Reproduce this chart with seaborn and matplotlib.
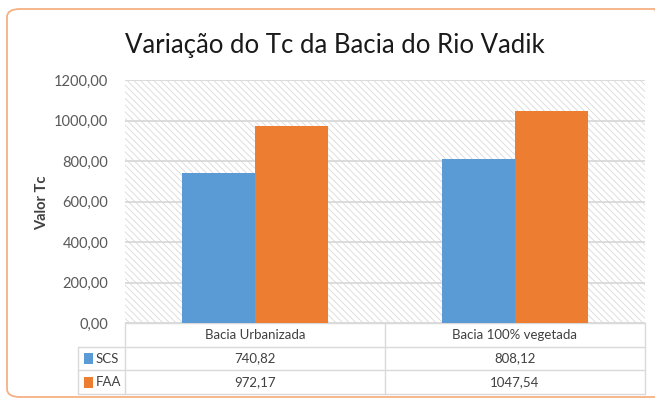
import pandas as pd
import seaborn as sns
import matplotlib.pyplot as plt
from matplotlib.patches import FancyBboxPatch, Rectangle

categories = ["Bacia Urbanizada", "Bacia 100% vegetada"]
series = ["SCS", "FAA"]
scs_values = [740.82, 808.12]
faa_values = [972.17, 1047.54]
yticks = [0, 200, 400, 600, 800, 1000, 1200]
colors = ["#5B9BD5", "#ED7D31"]

W, H = 655, 401


def fmt(v):
    return f"{v:.2f}".replace(".", ",")


def main():
    df = pd.DataFrame({
        "cat": categories * 2,
        "serie": [series[0]] * 2 + [series[1]] * 2,
        "valor": scs_values + faa_values,
    })

    sns.set_style("white")
    plt.rcParams["font.family"] = ["Lato", "DejaVu Sans"]
    plt.rcParams["hatch.linewidth"] = 0.6
    plt.rcParams["hatch.color"] = "#d9d9d9"

    fig = plt.figure(figsize=(W / 100, H / 100), dpi=100)
    fig.patch.set_facecolor("white")

    # rounded orange frame
    frame = FancyBboxPatch((7 / W, 4 / H), 660 / W, 388 / H,
                           boxstyle="round,pad=0,rounding_size=0.02",
                           transform=fig.transFigure, facecolor="none",
                           edgecolor="#F4B183", linewidth=1.3)
    fig.patches.append(frame)

    left, right, top, bottom = 125, 645, 80, 323
    ax = fig.add_axes([left / W, 1 - bottom / H, (right - left) / W, (bottom - top) / H])
    ax.set_facecolor("white")
    ax.add_patch(Rectangle((0, 0), 1, 1, transform=ax.transAxes, facecolor="white",
                           hatch="\\\\\\\\\\", edgecolor="#d9d9d9", linewidth=0, zorder=0))

    sns.barplot(data=df, x="cat", y="valor", hue="serie", palette=colors,
                width=0.56, gap=0, ax=ax, zorder=3, legend=False, saturation=1)
    for p in ax.patches[1:]:
        p.set_edgecolor("none")

    ax.set_ylim(0, 1200)
    ax.set_xlim(-0.5, 1.5)
    ax.set_yticks(yticks)
    ax.set_yticklabels([fmt(v) for v in yticks], color="#595959", fontsize=10.5)
    ax.tick_params(axis="y", length=0, pad=12)
    ax.set_xticks([])
    ax.set_xlabel("")
    ax.set_ylabel("")
    ax.grid(axis="y", color="#d9d9d9", linewidth=1.3, zorder=1)
    ax.set_axisbelow(True)
    for s in ax.spines.values():
        s.set_visible(False)

    fig.text(42 / W, 1 - 203 / H, "Valor Tc", rotation=90, ha="center", va="center",
             fontsize=10.5, fontweight="bold", color="#404040")

    # data table below the axes
    rh = 23.7 / (bottom - top)
    lc = (left - 78) / (right - left)
    lk = dict(color="#d9d9d9", linewidth=1, transform=ax.transAxes, clip_on=False)
    for i in range(4):
        y = -i * rh
        x0 = 0 if i == 0 else -lc
        ax.plot([x0, 1], [y, y], **lk)
    ax.plot([-lc, -lc], [-rh, -3 * rh], **lk)
    for x in [0, 0.5, 1]:
        ax.plot([x, x], [0, -3 * rh], **lk)

    tk = dict(transform=ax.transAxes, ha="center", va="center", fontsize=9.5, color="#404040")
    for j, c in enumerate(categories):
        ax.text(0.25 + 0.5 * j, -0.5 * rh, c, **tk)
    for i, (name, vals) in enumerate([(series[0], scs_values), (series[1], faa_values)]):
        yc = -(1.5 + i) * rh
        for j, v in enumerate(vals):
            ax.text(0.25 + 0.5 * j, yc, fmt(v), **tk)
        ax.add_patch(Rectangle((-lc + 0.012, yc - 0.022), 0.017, 0.044, transform=ax.transAxes,
                               facecolor=colors[i], edgecolor="none", clip_on=False))
        ax.text(-lc + 0.034, yc, name, transform=ax.transAxes, ha="left", va="center",
                fontsize=9.5, color="#404040")

    fig.text(335 / W, 1 - 45 / H, "Variação do Tc da Bacia do Rio Vadik", ha="center",
             va="center", fontsize=18.5, color="#1a1a1a")

    fig.savefig("out.png", dpi=100)


if __name__ == "__main__":
    main()
